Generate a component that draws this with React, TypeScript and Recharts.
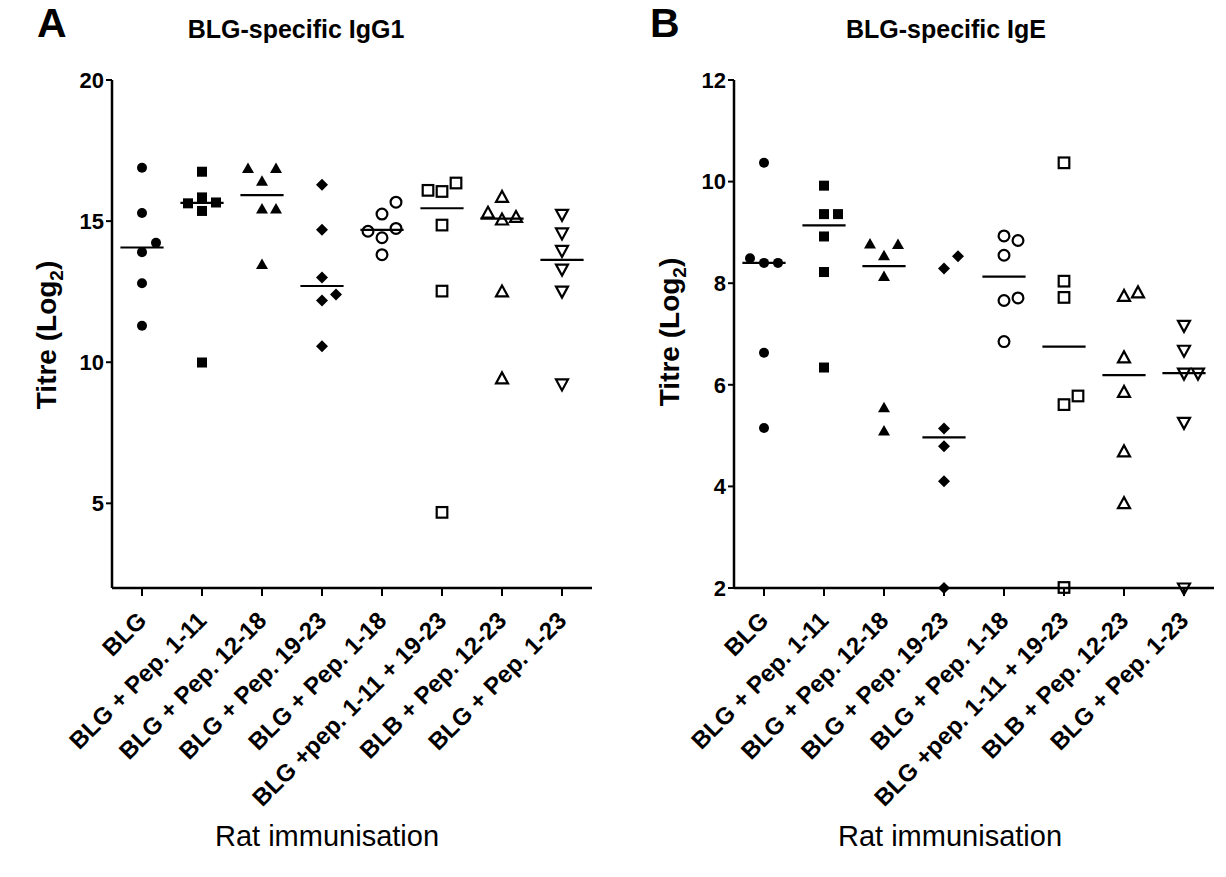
import React from "react";
import { ScatterChart, Scatter, XAxis, YAxis, ReferenceLine } from "recharts";

const groups = [
  "BLG",
  "BLG + Pep. 1-11",
  "BLG + Pep. 12-18",
  "BLG + Pep. 19-23",
  "BLG + Pep. 1-18",
  "BLG +pep. 1-11 + 19-23",
  "BLB + Pep. 12-23",
  "BLG + Pep. 1-23",
];

// IgG1 titres (log2), one array per immunisation group
const igg1Blg = [16.89, 15.29, 13.9, 14.23, 12.8, 11.29];
const igg1Pep1_11 = [16.75, 15.84, 15.36, 15.66, 15.63, 9.99];
const igg1Pep12_18 = [16.41, 16.86, 16.86, 15.43, 15.43, 13.46];
const igg1Pep19_23 = [16.29, 14.69, 13.0, 12.19, 12.4, 10.57];
const igg1Pep1_18 = [15.25, 15.67, 14.41, 14.74, 14.64, 13.81];
const igg1Pep1_11_19_23 = [16.05, 16.35, 16.09, 14.86, 12.52, 4.68];
const igg1Pep12_23 = [15.84, 15.04, 15.13, 15.28, 12.49, 9.41];
const igg1Pep1_23 = [15.24, 14.58, 13.96, 13.3, 12.52, 9.23];

// IgE titres (log2)
const igeBlg = [10.37, 8.4, 8.4, 8.49, 6.63, 5.15];
const igePep1_11 = [9.92, 9.36, 9.36, 8.92, 8.22, 6.34];
const igePep12_18 = [8.54, 8.76, 8.77, 8.13, 5.55, 5.09];
const igePep19_23 = [8.29, 8.53, 5.14, 4.79, 4.1, 2.0];
const igePep1_18 = [8.93, 8.84, 8.55, 7.66, 7.71, 6.85];
const igePep1_11_19_23 = [10.37, 8.04, 7.72, 5.61, 5.78, 2.01];
const igePep12_23 = [7.74, 7.81, 6.53, 5.85, 4.68, 3.66];
const igePep1_23 = [7.17, 6.68, 6.23, 6.23, 5.26, 2.0];

const igg1Ticks = [5, 10, 15, 20];
const igeTicks = [2, 4, 6, 8, 10, 12];

const igg1Groups = [igg1Blg, igg1Pep1_11, igg1Pep12_18, igg1Pep19_23, igg1Pep1_18, igg1Pep1_11_19_23, igg1Pep12_23, igg1Pep1_23];
const igeGroups = [igeBlg, igePep1_11, igePep12_18, igePep19_23, igePep1_18, igePep1_11_19_23, igePep12_23, igePep1_23];

const FONT = "'Liberation Sans', Arial, sans-serif";
const PLOT_W = 480;
const PLOT_H = 508;
const BAND = PLOT_W / groups.length;
const SLOT = 14;
const MIN_GAP = 13;

type Kind = "circle" | "square" | "triangle" | "diamond" | "circleOpen" | "squareOpen" | "triangleOpen" | "triangleDownOpen";
const kinds: Kind[] = ["circle", "square", "triangle", "diamond", "circleOpen", "squareOpen", "triangleOpen", "triangleDownOpen"];

// spread overlapping points sideways, like a column scatter plot does
const spread = (values: number[], pxPerUnit: number) => {
  const placed: { dx: number; py: number }[] = [];
  return values.map((v) => {
    const py = v * pxPerUnit;
    for (const s of [0, 1, -1, 2, -2]) {
      const dx = s * SLOT;
      if (placed.every((p) => Math.hypot(p.dx - dx, p.py - py) >= MIN_GAP)) {
        placed.push({ dx, py });
        return dx;
      }
    }
    return 0;
  });
};

const median = (values: number[]) => {
  const s = [...values].sort((a, b) => a - b);
  const m = Math.floor(s.length / 2);
  return s.length % 2 ? s[m] : (s[m - 1] + s[m]) / 2;
};

const makeShape = (kind: Kind) => (props: any) => {
  const { cx, cy } = props;
  if (cx == null || cy == null) return <g />;
  const open = { fill: "none", stroke: "#000", strokeWidth: 2.2 };
  switch (kind) {
    case "circle":
      return <circle cx={cx} cy={cy} r={5} fill="#000" />;
    case "square":
      return <rect x={cx - 5} y={cy - 5} width={10} height={10} fill="#000" />;
    case "triangle":
      return <polygon points={`${cx},${cy - 6} ${cx - 6},${cy + 4.5} ${cx + 6},${cy + 4.5}`} fill="#000" />;
    case "diamond":
      return <polygon points={`${cx},${cy - 6} ${cx + 6},${cy} ${cx},${cy + 6} ${cx - 6},${cy}`} fill="#000" />;
    case "circleOpen":
      return <circle cx={cx} cy={cy} r={5.4} {...open} />;
    case "squareOpen":
      return <rect x={cx - 5.3} y={cy - 5.3} width={10.6} height={10.6} {...open} />;
    case "triangleOpen":
      return <polygon points={`${cx},${cy - 6.5} ${cx - 6},${cy + 4.5} ${cx + 6},${cy + 4.5}`} {...open} />;
    default:
      return <polygon points={`${cx},${cy + 6.5} ${cx - 6},${cy - 4.5} ${cx + 6},${cy - 4.5}`} {...open} />;
  }
};

const XTick = (props: any) => {
  const { x, y, payload } = props;
  const ax = x + 6;
  const ay = y + 24;
  return (
    <text
      x={ax}
      y={ay}
      transform={`rotate(-45 ${ax} ${ay})`}
      textAnchor="end"
      fontFamily={FONT}
      fontWeight="bold"
      fontSize={24}
      fill="#000"
    >
      {groups[payload.value]}
    </text>
  );
};

type PanelProps = {
  letter: string;
  title: string;
  data: number[][];
  domain: [number, number];
  ticks: number[];
  yAxisWidth: number;
  left: number;
  labelX: number;
  labelY: number;
  titleX: number;
  xTitleX: number;
};

function Panel({ letter, title, data, domain, ticks, yAxisWidth, left, labelX, labelY, titleX, xTitleX }: PanelProps) {
  const pxPerUnit = PLOT_H / (domain[1] - domain[0]);
  return (
    <>
      <div style={{ position: "absolute", left: left + 37, top: 0, fontFamily: FONT, fontWeight: "bold", fontSize: 41 }}>{letter}</div>
      <div
        style={{
          position: "absolute",
          left: titleX - 200,
          width: 400,
          top: 15,
          textAlign: "center",
          fontFamily: FONT,
          fontWeight: "bold",
          fontSize: 25,
        }}
      >
        {title}
      </div>
      <div
        style={{
          position: "absolute",
          left: labelX - 120,
          top: labelY - 18,
          width: 240,
          textAlign: "center",
          transform: "rotate(-90deg)",
          fontFamily: FONT,
          fontWeight: "bold",
          fontSize: 28,
          lineHeight: "34px",
          whiteSpace: "nowrap",
        }}
      >
        Titre (Log<sub style={{ fontSize: 19, lineHeight: 0 }}>2</sub>)
      </div>
      <div
        style={{
          position: "absolute",
          left: xTitleX - 200,
          width: 400,
          top: 820,
          textAlign: "center",
          fontFamily: FONT,
          fontSize: 29,
        }}
      >
        Rat immunisation
      </div>
      <div style={{ position: "absolute", left, top: 0 }}>
        <ScatterChart width={yAxisWidth + PLOT_W + 12} height={877} margin={{ top: 80, right: 12, bottom: 0, left: 0 }}>
          <XAxis
            type="number"
            dataKey="x"
            domain={[-0.5, groups.length - 0.5]}
            ticks={groups.map((_, i) => i)}
            interval={0}
            height={877 - 80 - PLOT_H}
            tick={<XTick />}
            tickSize={8}
            axisLine={{ stroke: "#000", strokeWidth: 2.5 }}
            tickLine={{ stroke: "#000", strokeWidth: 2 }}
          />
          <YAxis
            type="number"
            dataKey="y"
            domain={domain}
            ticks={ticks}
            interval={0}
            width={yAxisWidth}
            tickSize={6}
            tickMargin={2}
            axisLine={{ stroke: "#000", strokeWidth: 2.5 }}
            tickLine={{ stroke: "#000", strokeWidth: 2 }}
            tick={{ fill: "#000", fontFamily: FONT, fontWeight: "bold", fontSize: 22 }}
          />
          {data.map((values, i) => {
            const offsets = spread(values, pxPerUnit);
            const points = values.map((v, j) => ({ x: i + offsets[j] / BAND, y: v }));
            return (
              <Scatter
                key={`g-${i}`}
                data={points}
                shape={makeShape(kinds[i])}
                isAnimationActive={false}
              />
            );
          })}
          {data.map((values, i) => {
            const m = median(values);
            return (
              <ReferenceLine
                key={`m-${i}`}
                segment={[
                  { x: i - 0.36, y: m },
                  { x: i + 0.36, y: m },
                ]}
                stroke="#000"
                strokeWidth={2.2}
                ifOverflow="visible"
              />
            );
          })}
        </ScatterChart>
      </div>
    </>
  );
}

export default function App() {
  return (
    <div style={{ position: "relative", width: 1226, height: 877, background: "#fff", overflow: "hidden" }}>
      <style>{"body{margin:0}"}</style>
      <Panel
        letter="A"
        title="BLG-specific IgG1"
        data={igg1Groups}
        domain={[2, 20]}
        ticks={igg1Ticks}
        yAxisWidth={112}
        left={0}
        labelX={47}
        labelY={336}
        titleX={296}
        xTitleX={327}
      />
      <Panel
        letter="B"
        title="BLG-specific IgE"
        data={igeGroups}
        domain={[2, 12]}
        ticks={igeTicks}
        yAxisWidth={121}
        left={613}
        labelX={670}
        labelY={333}
        titleX={946}
        xTitleX={950}
      />
    </div>
  );
}
